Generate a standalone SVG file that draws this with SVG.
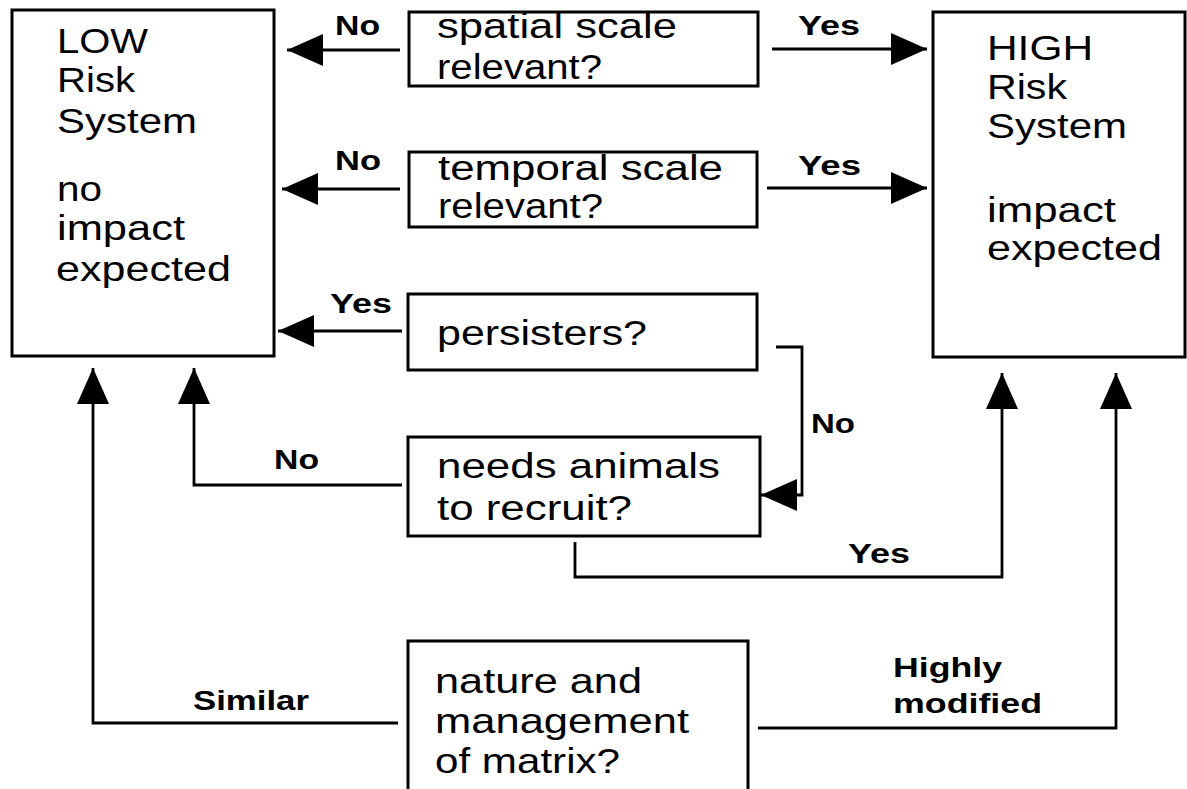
<svg xmlns="http://www.w3.org/2000/svg" width="1187" height="789" viewBox="0 0 1187 789">
<style>
.box{fill:#fff;stroke:#000;stroke-width:3}
.t{font-family:"Liberation Sans",Arial,sans-serif;font-size:35px;fill:#000}
.lb{font-family:"Liberation Sans",Arial,sans-serif;font-size:28px;font-weight:bold;fill:#000}
.c{fill:none;stroke:#000;stroke-width:2.8;marker-end:url(#ah)}
</style>
<defs>
<marker id="ah" markerUnits="userSpaceOnUse" markerWidth="37" markerHeight="34" refX="36" refY="17" orient="auto">
<path d="M0,1 L36,17 L0,33 z" fill="#000"/>
</marker>
</defs>
<rect width="1187" height="789" fill="#fff"/>

<g id="connectors">
<path class="c" d="M400,50 H287"/>
<path class="c" d="M400,189 H282"/>
<path class="c" d="M402,331 H278"/>
<path class="c" d="M772,49 H927"/>
<path class="c" d="M767,188 H927"/>
<path class="c" d="M776,347 H802 V495 H761"/>
<path class="c" d="M402,485 H194 V368"/>
<path class="c" d="M575,542 V577 H1002 V373"/>
<path class="c" d="M398,723 H93 V368"/>
<path class="c" d="M758,728 H1116 V373"/>
<text class="lb" x="335" y="35" textLength="45" lengthAdjust="spacingAndGlyphs">No</text>
<text class="lb" x="335" y="170" textLength="46" lengthAdjust="spacingAndGlyphs">No</text>
<text class="lb" x="330" y="313" textLength="62" lengthAdjust="spacingAndGlyphs">Yes</text>
<text class="lb" x="798" y="35" textLength="62" lengthAdjust="spacingAndGlyphs">Yes</text>
<text class="lb" x="798" y="175" textLength="63" lengthAdjust="spacingAndGlyphs">Yes</text>
<text class="lb" x="811" y="433" textLength="44" lengthAdjust="spacingAndGlyphs">No</text>
<text class="lb" x="274" y="469" textLength="45" lengthAdjust="spacingAndGlyphs">No</text>
<text class="lb" x="848" y="563" textLength="62" lengthAdjust="spacingAndGlyphs">Yes</text>
<text class="lb" x="193" y="710" textLength="116" lengthAdjust="spacingAndGlyphs">Similar</text>
<text class="lb" x="893" y="677" textLength="109" lengthAdjust="spacingAndGlyphs">Highly</text>
<text class="lb" x="893" y="713" textLength="149" lengthAdjust="spacingAndGlyphs">modified</text>
</g>

<g id="low">
<rect class="box" x="12" y="10" width="262" height="346"/>
<text class="t" x="57" y="53" textLength="91" lengthAdjust="spacingAndGlyphs">LOW</text>
<text class="t" x="57" y="92" textLength="78" lengthAdjust="spacingAndGlyphs">Risk</text>
<text class="t" x="57" y="133" textLength="140" lengthAdjust="spacingAndGlyphs">System</text>
<text class="t" x="57" y="201" textLength="45" lengthAdjust="spacingAndGlyphs">no</text>
<text class="t" x="57" y="240" textLength="128" lengthAdjust="spacingAndGlyphs">impact</text>
<text class="t" x="56" y="281" textLength="175" lengthAdjust="spacingAndGlyphs">expected</text>
</g>

<g id="high">
<rect class="box" x="933" y="12" width="252" height="345"/>
<text class="t" x="987" y="60" textLength="106" lengthAdjust="spacingAndGlyphs">HIGH</text>
<text class="t" x="987" y="99" textLength="80" lengthAdjust="spacingAndGlyphs">Risk</text>
<text class="t" x="987" y="138" textLength="140" lengthAdjust="spacingAndGlyphs">System</text>
<text class="t" x="987" y="222" textLength="129" lengthAdjust="spacingAndGlyphs">impact</text>
<text class="t" x="987" y="260" textLength="175" lengthAdjust="spacingAndGlyphs">expected</text>
</g>

<g id="spatial">
<rect class="box" x="409" y="12" width="349" height="74"/>
<text class="t" x="437" y="38" textLength="240" lengthAdjust="spacingAndGlyphs">spatial scale</text>
<text class="t" x="437" y="79" textLength="165" lengthAdjust="spacingAndGlyphs">relevant?</text>
</g>

<g id="temporal">
<rect class="box" x="409" y="152" width="348" height="75"/>
<text class="t" x="438" y="180" textLength="285" lengthAdjust="spacingAndGlyphs">temporal scale</text>
<text class="t" x="438" y="218" textLength="165" lengthAdjust="spacingAndGlyphs">relevant?</text>
</g>

<g id="persisters">
<rect class="box" x="408" y="294" width="349" height="76"/>
<text class="t" x="437" y="345" textLength="210" lengthAdjust="spacingAndGlyphs">persisters?</text>
</g>

<g id="needs">
<rect class="box" x="408" y="437" width="352" height="99"/>
<text class="t" x="437" y="478" textLength="283" lengthAdjust="spacingAndGlyphs">needs animals</text>
<text class="t" x="437" y="520" textLength="195" lengthAdjust="spacingAndGlyphs">to recruit?</text>
</g>

<g id="matrix">
<rect class="box" x="408" y="641" width="340" height="152"/>
<text class="t" x="435" y="693" textLength="207" lengthAdjust="spacingAndGlyphs">nature and</text>
<text class="t" x="435" y="733" textLength="254" lengthAdjust="spacingAndGlyphs">management</text>
<text class="t" x="435" y="773" textLength="185" lengthAdjust="spacingAndGlyphs">of matrix?</text>
</g>
</svg>
